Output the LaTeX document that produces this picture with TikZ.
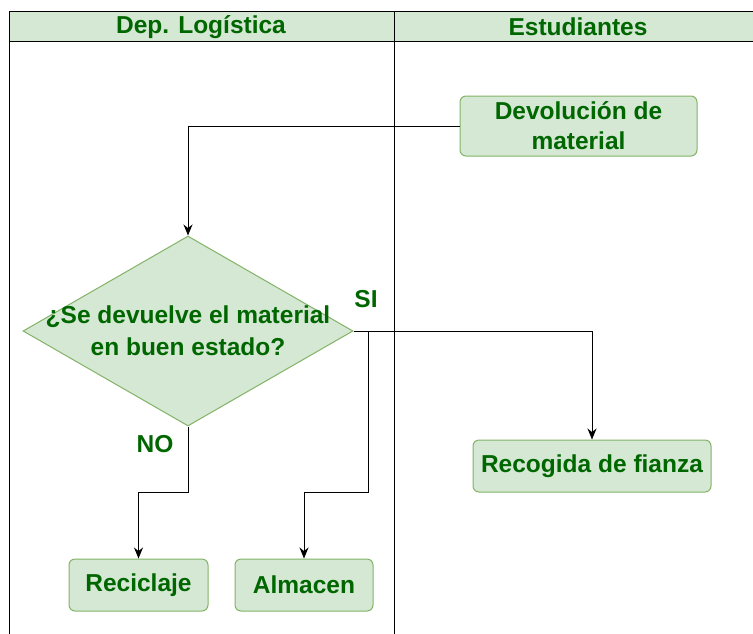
\documentclass[tikz,border=0pt]{standalone}
\usepackage{fontspec}
\setmainfont{Liberation Sans}
\usetikzlibrary{shapes.geometric,arrows.meta}
\definecolor{gfill}{HTML}{D5E8D4}
\definecolor{gline}{HTML}{82B366}
\definecolor{gtext}{HTML}{006600}
\tikzset{
  box/.style={draw=gline, fill=gfill, rounded corners=6pt, line width=1pt, inner sep=0pt,
    font=\fontsize{24.5}{30}\selectfont\bfseries, text=gtext, align=center},
  dec/.style={draw=gline, fill=gfill, shape=diamond, line width=1pt, inner sep=0pt},
  txt/.style={font=\fontsize{24.5}{32}\selectfont\bfseries, text=gtext, align=center},
  arr/.style={draw=black, line width=1pt, -{Stealth[length=11pt,width=9pt]}},
  lane/.style={draw=black, line width=1pt},
}
\begin{document}
\begin{tikzpicture}[x=1pt,y=-1pt]
\useasboundingbox (0,0) rectangle (753,633);
% lanes
\fill[gfill] (9,11) rectangle (760,41);
\draw[lane] (9,645) -- (9,11) -- (760,11);
\draw[lane] (9,41) -- (760,41);
\draw[lane] (394,11) -- (394,645);
\node[txt] (h1) at (201,27) {Dep. Logística};
\node[txt] (h2) at (578,27) {Estudiantes};
% nodes
\node[box, minimum width=237pt, minimum height=60pt] (dev) at (578.5,126) {Devolución de\\material};
\node[dec, minimum width=330pt, minimum height=190pt] (q) at (188,331) {};
\node[txt] (qt) at (188,331) {¿Se devuelve el material\\en buen estado?};
\node[box, minimum width=238pt, minimum height=52pt] (fz) at (592,466) {Recogida de fianza};
\node[box, minimum width=139pt, minimum height=52pt] (rec) at (138.5,585) {Reciclaje};
\node[box, minimum width=138pt, minimum height=52pt] (alm) at (304,585) {Almacen};
% junctions
\coordinate (j1) at (368,492);
\coordinate (j2) at (188,492);
% connectors
\draw[arr] (dev.west) -| (q.north);
\draw[arr] (q.east) -| (fz.north);
\draw[arr] (q.east) -| (j1) -| (alm.north);
\draw[arr] (q.south) -- (j2) -| (rec.north);
% labels
\node[txt] (si) at (366,299) {SI};
\node[txt] (no) at (155,444) {NO};
\end{tikzpicture}
\end{document}
